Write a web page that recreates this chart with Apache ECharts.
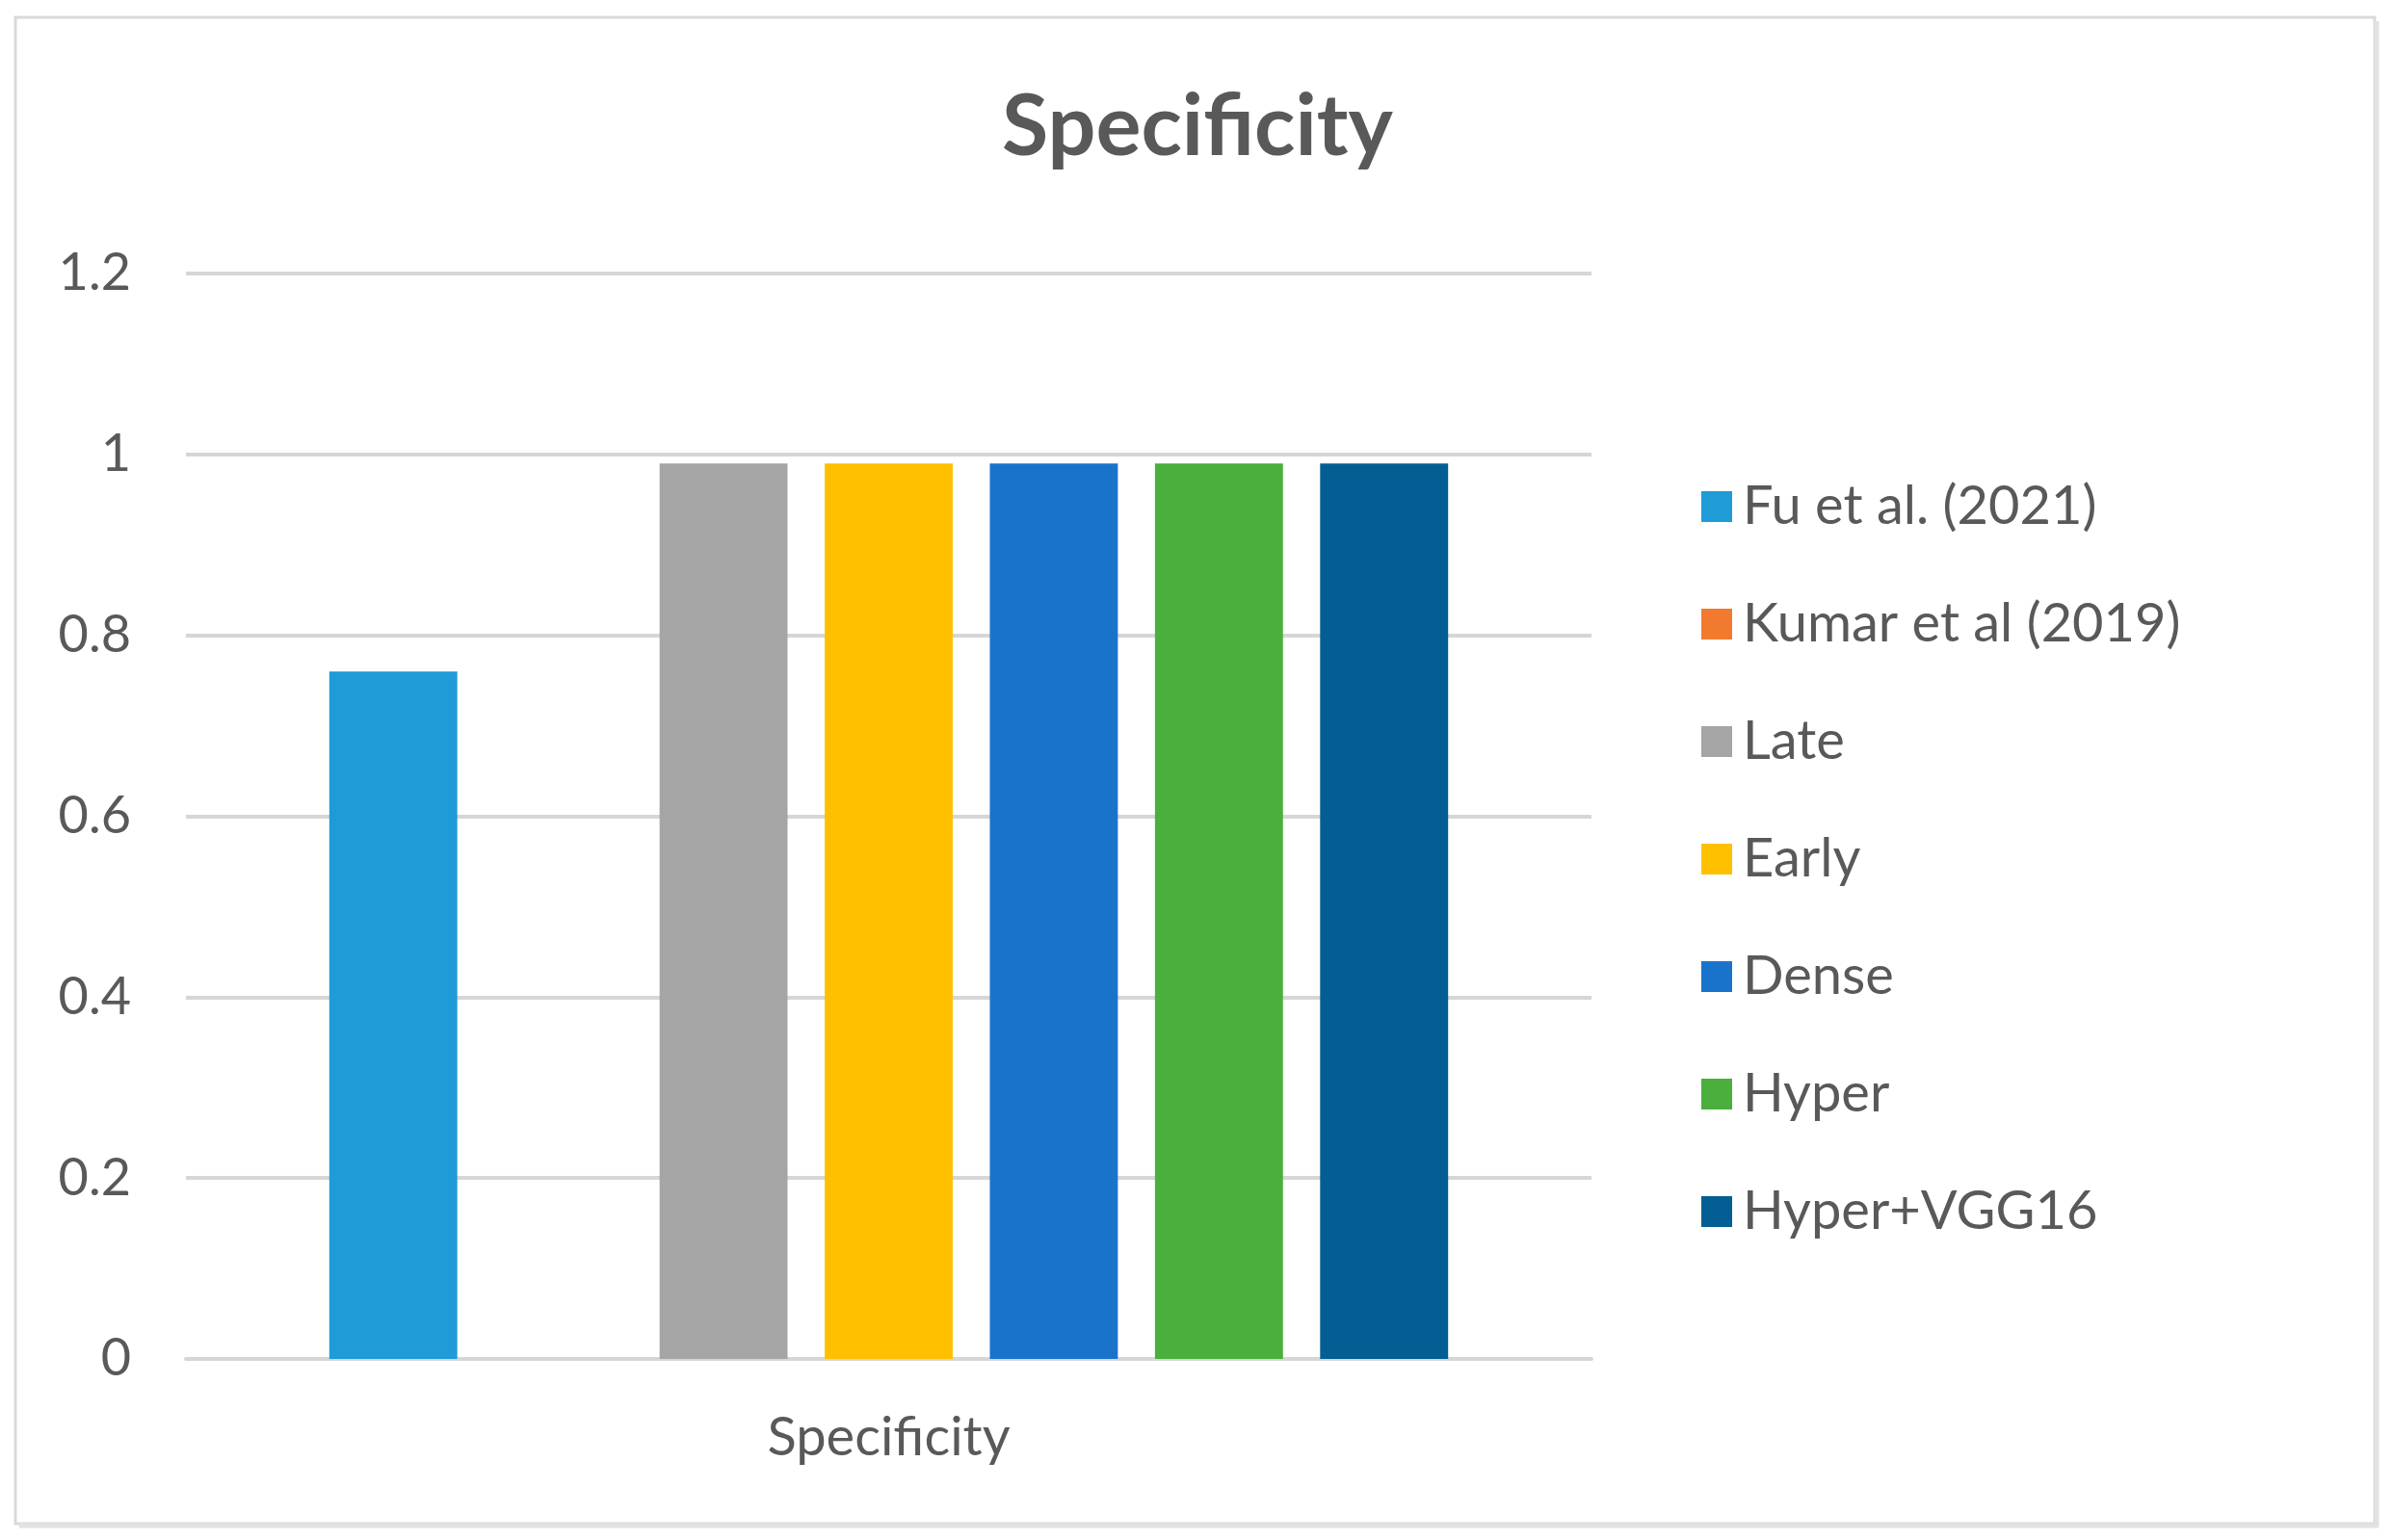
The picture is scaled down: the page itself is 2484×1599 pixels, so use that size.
<!DOCTYPE html>
<html>
<head>
<meta charset="utf-8">
<script src="https://cdn.jsdelivr.net/npm/echarts@6/dist/echarts.min.js"></script>
<style>
html,body{margin:0;padding:0;background:#fff;}
#chart{width:2484px;height:1599px;}
</style>
</head>
<body>
<div id="chart"></div>
<script>
const categories = ['Specificity'];
const seriesNames = ['Fu et al. (2021)', 'Kumar et al (2019)', 'Late', 'Early', 'Dense', 'Hyper', 'Hyper+VGG16'];
const fuValues = [0.76];
const kumarValues = [null];
const lateValues = [0.99];
const earlyValues = [0.99];
const denseValues = [0.99];
const hyperValues = [0.99];
const hyperVggValues = [0.99];
const seriesColors = ['#1F9BD7', '#F27A2E', '#A5A5A5', '#FFC000', '#1A73CB', '#4AAF3D', '#025E93'];
const yTicks = { min: 0, max: 1.2, interval: 0.2 };

const allValues = [fuValues, kumarValues, lateValues, earlyValues, denseValues, hyperValues, hyperVggValues];
const textColor = '#595959';
const fontFamily = 'Lato, "Open Sans", sans-serif';

const chart = echarts.init(document.getElementById('chart'), null, { renderer: 'canvas' });
chart.setOption({
  backgroundColor: '#ffffff',
  animation: false,
  title: {
    text: 'Specificity',
    left: 1238,
    textAlign: 'center',
    top: 82,
    textStyle: { fontFamily: fontFamily, fontWeight: 'bold', fontSize: 88, color: textColor, lineHeight: 92 }
  },
  legend: {
    orient: 'vertical',
    left: 1761,
    top: 491,
    itemWidth: 32,
    itemHeight: 32,
    itemGap: 62,
    icon: 'rect',
    data: seriesNames,
    textStyle: { fontFamily: fontFamily, fontSize: 56, color: textColor, lineHeight: 60, padding: [0, 0, 0, 6] }
  },
  grid: { left: 193, right: 832, top: 284, bottom: 188, containLabel: false },
  xAxis: {
    type: 'category',
    data: categories,
    axisLine: { show: true, lineStyle: { color: '#D6D6D6', width: 4 } },
    axisTick: { show: false },
    axisLabel: { margin: 54, fontFamily: fontFamily, fontSize: 56, color: textColor }
  },
  yAxis: {
    type: 'value',
    min: yTicks.min,
    max: yTicks.max,
    interval: yTicks.interval,
    axisLine: { show: false },
    axisTick: { show: false },
    splitLine: { lineStyle: { color: '#D6D6D6', width: 4 } },
    axisLabel: { margin: 57, fontFamily: fontFamily, fontSize: 54, color: textColor }
  },
  graphic: [
    { type: 'rect', shape: { x: 16, y: 18, width: 2449, height: 1564 }, style: { fill: 'none', stroke: '#D9D9D9', lineWidth: 3 }, silent: true },
    { type: 'line', shape: { x1: 2467, y1: 22, x2: 2467, y2: 1585 }, style: { stroke: '#E2E2E2', lineWidth: 5 }, silent: true },
    { type: 'line', shape: { x1: 20, y1: 1584, x2: 2469, y2: 1584 }, style: { stroke: '#E2E2E2', lineWidth: 5 }, silent: true }
  ],
  series: seriesNames.map((name, i) => ({
    name: name,
    type: 'bar',
    data: allValues[i],
    barGap: '29%',
    barCategoryGap: '20.4%',
    itemStyle: { color: seriesColors[i] }
  }))
});
</script>
</body>
</html>
